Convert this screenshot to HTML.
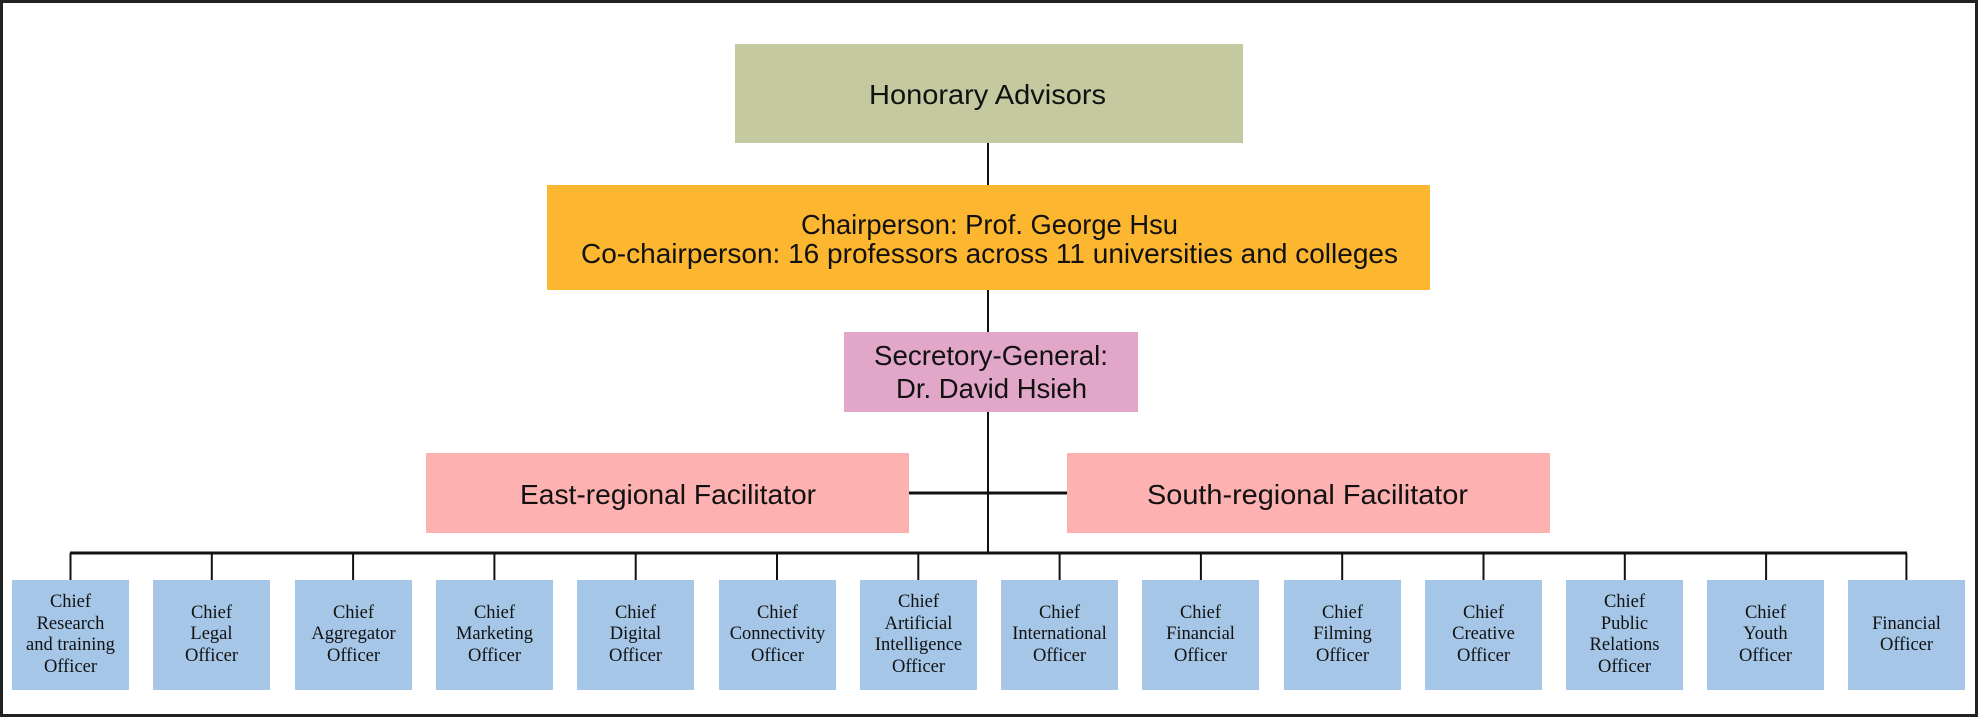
<!DOCTYPE html>
<html><head><meta charset="utf-8"><style>
html,body{margin:0;padding:0;background:#fff;}
#c{position:relative;width:1978px;height:718px;overflow:hidden;background:#fff;}
.b{position:absolute;top:580px;width:117px;height:110px;background:#a5c6e6;display:flex;align-items:center;justify-content:center;text-align:center;font-family:"Liberation Serif",serif;font-size:18.5px;line-height:21.5px;color:#111;}
</style></head><body><div id="c">
<svg width="1978" height="718" style="position:absolute;left:0;top:0">
<rect x="1.5" y="1.5" width="1975" height="714" fill="none" stroke="#222" stroke-width="3"/>
<g stroke="#111" stroke-width="2" fill="none">
<line x1="988" y1="143" x2="988" y2="185"/>
<line x1="988" y1="290" x2="988" y2="332"/>
<line x1="988" y1="412" x2="988" y2="553"/>
<line x1="909" y1="493" x2="1067" y2="493" stroke-width="3"/>
<line x1="70" y1="553" x2="1907" y2="553" stroke-width="3"/>
</g>
<rect x="735" y="44" width="508" height="99" fill="#c5c99f"/>
<rect x="547" y="185" width="883" height="105" fill="#fdb62f"/>
<rect x="844" y="332" width="294" height="80" fill="#e2a6c9"/>
<rect x="426" y="453" width="483" height="80" fill="#fdb1b0"/>
<rect x="1067" y="453" width="483" height="80" fill="#fdb1b0"/>
<g font-family="Liberation Sans, sans-serif" font-size="28" fill="#111">
<text x="869" y="104" textLength="237" lengthAdjust="spacingAndGlyphs">Honorary Advisors</text>
<text x="801" y="234" textLength="377" lengthAdjust="spacingAndGlyphs">Chairperson: Prof. George Hsu</text>
<text x="581" y="263" textLength="817" lengthAdjust="spacingAndGlyphs">Co-chairperson: 16 professors across 11 universities and colleges</text>
<text x="874" y="365" textLength="234" lengthAdjust="spacingAndGlyphs">Secretory-General:</text>
<text x="896" y="398" textLength="191" lengthAdjust="spacingAndGlyphs">Dr. David Hsieh</text>
<text x="520" y="504" textLength="296" lengthAdjust="spacingAndGlyphs">East-regional Facilitator</text>
<text x="1147" y="504" textLength="321" lengthAdjust="spacingAndGlyphs">South-regional Facilitator</text>
</g>
<g stroke="#111" stroke-width="2">
<line x1="70.5" y1="553" x2="70.5" y2="580"/><line x1="211.8" y1="553" x2="211.8" y2="580"/><line x1="353.1" y1="553" x2="353.1" y2="580"/><line x1="494.4" y1="553" x2="494.4" y2="580"/><line x1="635.7" y1="553" x2="635.7" y2="580"/><line x1="777" y1="553" x2="777" y2="580"/><line x1="918.3" y1="553" x2="918.3" y2="580"/><line x1="1059.6" y1="553" x2="1059.6" y2="580"/><line x1="1200.9" y1="553" x2="1200.9" y2="580"/><line x1="1342.2" y1="553" x2="1342.2" y2="580"/><line x1="1483.5" y1="553" x2="1483.5" y2="580"/><line x1="1624.8" y1="553" x2="1624.8" y2="580"/><line x1="1766.1" y1="553" x2="1766.1" y2="580"/><line x1="1906.4" y1="553" x2="1906.4" y2="580"/>
</g>
</svg>
<div class="b" style="left:12px">Chief<br>Research<br>and training<br>Officer</div>
<div class="b" style="left:153px">Chief<br>Legal<br>Officer</div>
<div class="b" style="left:295px">Chief<br>Aggregator<br>Officer</div>
<div class="b" style="left:436px">Chief<br>Marketing<br>Officer</div>
<div class="b" style="left:577px">Chief<br>Digital<br>Officer</div>
<div class="b" style="left:719px">Chief<br>Connectivity<br>Officer</div>
<div class="b" style="left:860px">Chief<br>Artificial<br>Intelligence<br>Officer</div>
<div class="b" style="left:1001px">Chief<br>International<br>Officer</div>
<div class="b" style="left:1142px">Chief<br>Financial<br>Officer</div>
<div class="b" style="left:1284px">Chief<br>Filming<br>Officer</div>
<div class="b" style="left:1425px">Chief<br>Creative<br>Officer</div>
<div class="b" style="left:1566px">Chief<br>Public<br>Relations<br>Officer</div>
<div class="b" style="left:1707px">Chief<br>Youth<br>Officer</div>
<div class="b" style="left:1848px">Financial<br>Officer</div>
</div></body></html>
